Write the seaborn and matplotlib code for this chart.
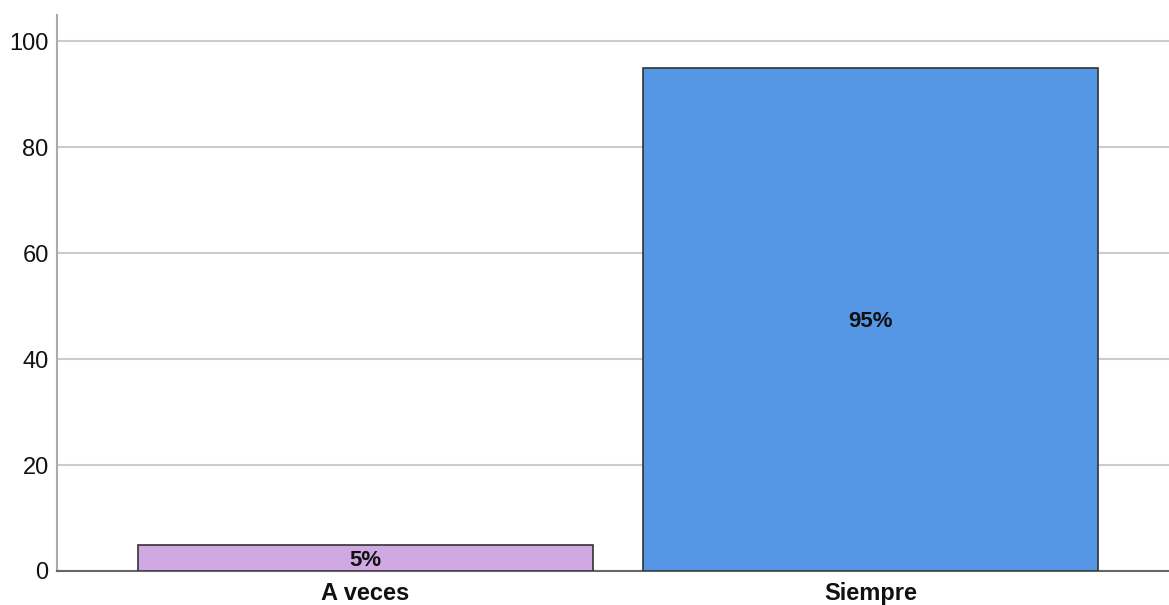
import matplotlib
matplotlib.use("Agg")
import matplotlib.pyplot as plt
import seaborn as sns
import pandas as pd

# datos del gráfico
categorias = ["A veces", "Siempre"]
porcentajes = [5, 95]
etiquetas = ["5%", "95%"]
colores = ["#D0A9E3", "#5596E5"]

df = pd.DataFrame({"cat": categorias, "pct": porcentajes})

sns.set_style("white")
plt.rcParams["font.family"] = ["Liberation Sans", "DejaVu Sans"]

fig = plt.figure(figsize=(11.69, 6.05), dpi=100)
ax = fig.add_axes([0.0488, 0.0562, 0.9512, 0.9190])

sns.barplot(data=df, x="cat", y="pct", hue="cat", palette=colores, legend=False,
            width=0.9, edgecolor="#333333", linewidth=1.2, saturation=1, ax=ax, zorder=3)

# etiquetas dentro de las barras
for p, txt in zip(ax.patches, etiquetas):
    ax.text(p.get_x() + p.get_width() / 2, p.get_height() / 2, txt,
            ha="center", va="center_baseline", fontsize=16, fontweight="bold",
            color="#111111", zorder=4)

ax.set_ylim(0, 105)
ax.set_xlim(-0.61, 1.59)
ax.set_yticks([0, 20, 40, 60, 80, 100])
ax.yaxis.grid(True, color="#CCCCCC", linewidth=1.5, zorder=0)
ax.set_xlabel("")
ax.set_ylabel("")
ax.tick_params(axis="both", length=0, labelsize=17, colors="#111111")
ax.tick_params(axis="x", pad=8)
ax.tick_params(axis="y", pad=6)
for lab in ax.get_xticklabels():
    lab.set_fontweight("bold")

for s in ["top", "right"]:
    ax.spines[s].set_visible(False)
ax.spines["left"].set_color("#AAAAAA")
ax.spines["left"].set_linewidth(1.5)
ax.spines["bottom"].set_color("#666666")
ax.spines["bottom"].set_linewidth(1.5)

fig.savefig("out.png", dpi=100)
